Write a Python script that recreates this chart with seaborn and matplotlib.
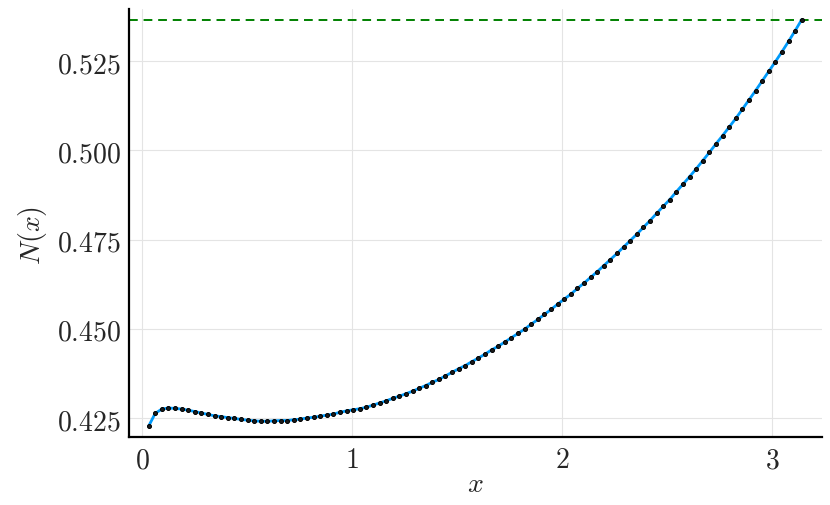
import matplotlib
matplotlib.use("Agg")
import matplotlib.pyplot as plt
import seaborn as sns
import pandas as pd
from matplotlib.ticker import FuncFormatter, FixedLocator

x_vals = [0.0314, 0.0628, 0.0942, 0.1257, 0.1571, 0.1885, 0.2199, 0.2513, 0.2827, 0.3142,
          0.3456, 0.3770, 0.4084, 0.4398, 0.4712, 0.5027, 0.5341, 0.5655, 0.5969, 0.6283,
          0.6597, 0.6912, 0.7226, 0.7540, 0.7854, 0.8168, 0.8482, 0.8796, 0.9111, 0.9425,
          0.9739, 1.0053, 1.0367, 1.0681, 1.0996, 1.1310, 1.1624, 1.1938, 1.2252, 1.2566,
          1.2881, 1.3195, 1.3509, 1.3823, 1.4137, 1.4451, 1.4765, 1.5080, 1.5394, 1.5708,
          1.6022, 1.6336, 1.6650, 1.6965, 1.7279, 1.7593, 1.7907, 1.8221, 1.8535, 1.8850,
          1.9164, 1.9478, 1.9792, 2.0106, 2.0420, 2.0735, 2.1049, 2.1363, 2.1677, 2.1991,
          2.2305, 2.2619, 2.2934, 2.3248, 2.3562, 2.3876, 2.4190, 2.4504, 2.4819, 2.5133,
          2.5447, 2.5761, 2.6075, 2.6389, 2.6704, 2.7018, 2.7332, 2.7646, 2.7960, 2.8274,
          2.8588, 2.8903, 2.9217, 2.9531, 2.9845, 3.0159, 3.0473, 3.0788, 3.1102, 3.1416]

n_vals = [0.4227, 0.4263, 0.4275, 0.4278, 0.4277, 0.4275, 0.4272, 0.4268, 0.4264, 0.4260,
          0.4256, 0.4254, 0.4251, 0.4249, 0.4246, 0.4244, 0.4242, 0.4241, 0.4241, 0.4242,
          0.4243, 0.4243, 0.4245, 0.4247, 0.4250, 0.4252, 0.4255, 0.4258, 0.4261, 0.4266,
          0.4270, 0.4273, 0.4276, 0.4280, 0.4286, 0.4292, 0.4298, 0.4305, 0.4311, 0.4318,
          0.4325, 0.4333, 0.4341, 0.4350, 0.4358, 0.4368, 0.4378, 0.4388, 0.4397, 0.4408,
          0.4418, 0.4429, 0.4441, 0.4451, 0.4463, 0.4475, 0.4487, 0.4499, 0.4513, 0.4526,
          0.4540, 0.4554, 0.4569, 0.4583, 0.4597, 0.4613, 0.4628, 0.4644, 0.4660, 0.4677,
          0.4694, 0.4711, 0.4729, 0.4747, 0.4765, 0.4784, 0.4803, 0.4823, 0.4843, 0.4862,
          0.4884, 0.4905, 0.4926, 0.4948, 0.4971, 0.4994, 0.5018, 0.5041, 0.5065, 0.5089,
          0.5115, 0.5141, 0.5167, 0.5194, 0.5221, 0.5248, 0.5276, 0.5305, 0.5335, 0.5366]

limit_value = 0.5366

x_ticks = [0, 1, 2, 3]
x_tick_labels = ["0", "1", "2", "3"]
y_ticks = [0.425, 0.450, 0.475, 0.500, 0.525]
y_tick_labels = ["0.425", "0.450", "0.475", "0.500", "0.525"]

sns.set_style("white")
plt.rcParams["mathtext.fontset"] = "cm"
plt.rcParams["font.family"] = ["DejaVu Sans"]

df = pd.DataFrame({"x": x_vals, "N": n_vals})

fig = plt.figure(figsize=(8.3, 5.06), dpi=100)
ax = fig.add_axes([129 / 830, 68 / 506, (822 - 129) / 830, (438 - 10) / 506])

ax.grid(True, color="#e4e4e4", linewidth=0.8, zorder=0)
ax.axhline(limit_value, color="#008000", linestyle=(0, (4.5, 3)), linewidth=1.4, zorder=2)

sns.lineplot(data=df, x="x", y="N", ax=ax, color="#009AFA", linewidth=2.0,
             marker="o", markersize=2.9, markerfacecolor="#1a1a1a",
             markeredgecolor="black", markeredgewidth=0.7, zorder=3)

ax.set_xlim(-0.062, 3.238)
ax.set_ylim(0.41968, 0.53957)

ax.xaxis.set_major_locator(FixedLocator(x_ticks))
ax.yaxis.set_major_locator(FixedLocator(y_ticks))
ax.xaxis.set_major_formatter(FuncFormatter(lambda v, p: "$" + x_tick_labels[p] + "$" if p is not None and p < len(x_tick_labels) else ""))
ax.yaxis.set_major_formatter(FuncFormatter(lambda v, p: "$" + y_tick_labels[p] + "$" if p is not None and p < len(y_tick_labels) else ""))

ax.tick_params(axis="both", which="major", labelsize=20, direction="in",
               length=4, width=0.6, color="#bbbbbb", pad=6)

for side in ["top", "right"]:
    ax.spines[side].set_visible(False)
for side in ["left", "bottom"]:
    ax.spines[side].set_color("black")
    ax.spines[side].set_linewidth(1.6)

ax.set_xlabel("$x$", fontsize=20, ha="center", va="center")
ax.set_ylabel("$N(x)$", fontsize=20, ha="center", va="center")
ax.xaxis.set_label_coords(0.5, (438 - 484) / 428)
ax.yaxis.set_label_coords((33 - 129) / 693, (438 - 235) / 428)

fig.savefig("out.png", dpi=100)
